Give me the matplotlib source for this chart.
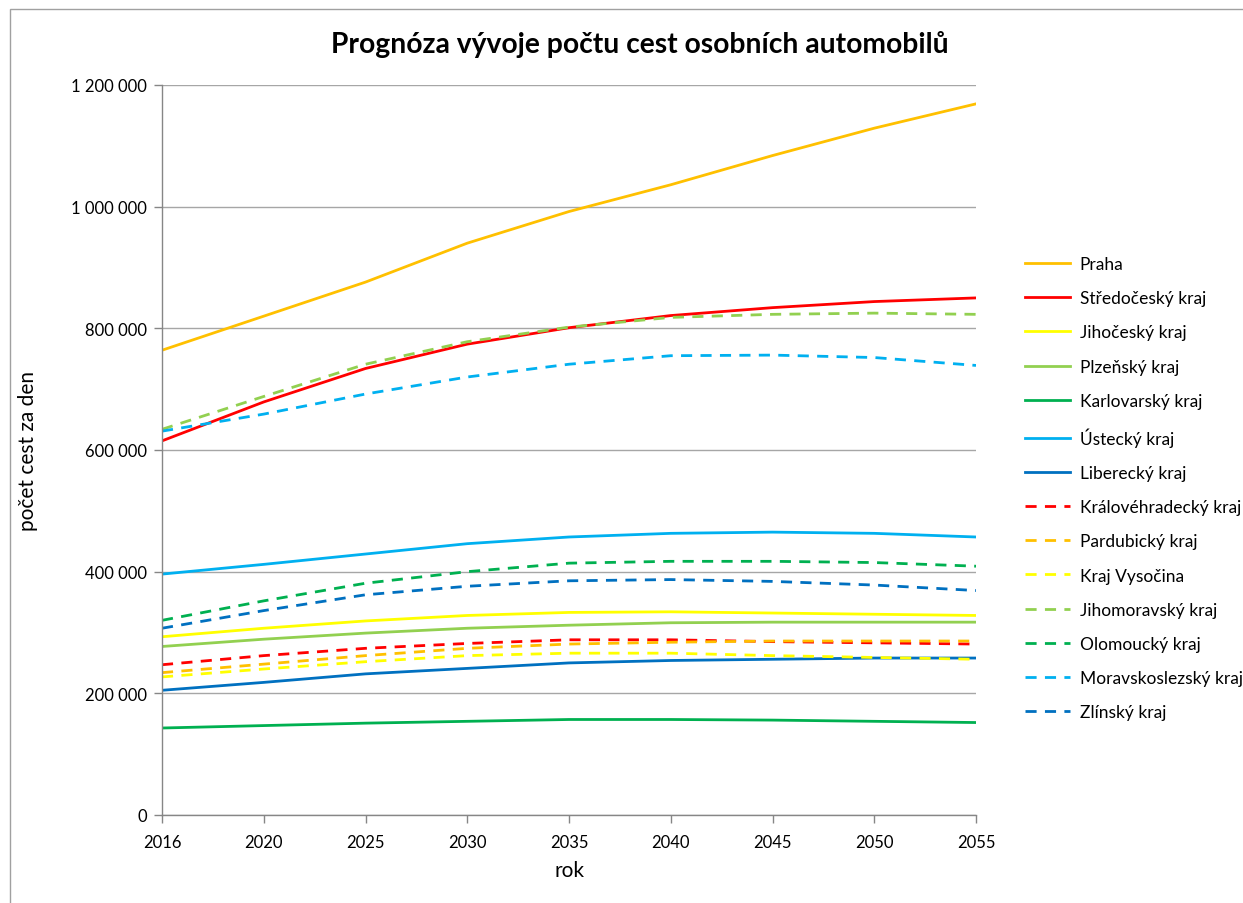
import matplotlib
matplotlib.use("Agg")
import matplotlib.pyplot as plt
from matplotlib.ticker import FuncFormatter
from matplotlib.patches import Rectangle

plt.rcParams['font.family'] = ['Lato', 'DejaVu Sans']

years = ["2016", "2020", "2025", "2030", "2035", "2040", "2045", "2050", "2055"]

praha = [764000, 820000, 876000, 940000, 992000, 1036000, 1084000, 1129000, 1169000]
stredocesky = [615000, 679000, 734000, 774000, 801000, 821000, 834000, 844000, 850000]
jihocesky = [293000, 307000, 319000, 328000, 333000, 334000, 332000, 330000, 328000]
plzensky = [277000, 289000, 299000, 307000, 312000, 316000, 317000, 317000, 317000]
karlovarsky = [143000, 147000, 151000, 154000, 157000, 157000, 156000, 154000, 152000]
ustecky = [396000, 412000, 429000, 446000, 457000, 463000, 465000, 463000, 457000]
liberecky = [205000, 218000, 232000, 241000, 250000, 254000, 256000, 258000, 258000]
kralovehradecky = [247000, 262000, 274000, 282000, 288000, 288000, 285000, 283000, 281000]
pardubicky = [234000, 248000, 262000, 274000, 281000, 284000, 286000, 286000, 286000]
vysocina = [227000, 240000, 252000, 262000, 266000, 266000, 262000, 259000, 256000]
jihomoravsky = [634000, 688000, 741000, 778000, 802000, 818000, 823000, 825000, 823000]
olomoucky = [320000, 352000, 381000, 400000, 414000, 417000, 417000, 415000, 409000]
moravskoslezsky = [631000, 659000, 692000, 720000, 741000, 755000, 756000, 752000, 739000]
zlinsky = [307000, 336000, 362000, 376000, 385000, 387000, 384000, 378000, 369000]

series = [
    ("Praha", praha, "#FFC000", "-"),
    ("Středočeský kraj", stredocesky, "#FF0000", "-"),
    ("Jihočeský kraj", jihocesky, "#FFFF00", "-"),
    ("Plzeňský kraj", plzensky, "#92D050", "-"),
    ("Karlovarský kraj", karlovarsky, "#00B050", "-"),
    ("Ústecký kraj", ustecky, "#00B0F0", "-"),
    ("Liberecký kraj", liberecky, "#0070C0", "-"),
    ("Královéhradecký kraj", kralovehradecky, "#FF0000", "--"),
    ("Pardubický kraj", pardubicky, "#FFC000", "--"),
    ("Kraj Vysočina", vysocina, "#FFFF00", "--"),
    ("Jihomoravský kraj", jihomoravsky, "#92D050", "--"),
    ("Olomoucký kraj", olomoucky, "#00B050", "--"),
    ("Moravskoslezský kraj", moravskoslezsky, "#00B0F0", "--"),
    ("Zlínský kraj", zlinsky, "#0070C0", "--"),
]

W, H = 1243, 904
fig = plt.figure(figsize=(W / 100, H / 100), dpi=100)
ax = fig.add_axes([162 / W, 1 - 816 / H, (976 - 162) / W, (816 - 86) / H])

x = list(range(len(years)))
for name, vals, col, ls in series:
    if ls == "--":
        ax.plot(x, vals, color=col, lw=2.0, label=name, dashes=(4, 3))
    else:
        ax.plot(x, vals, color=col, lw=2.0, label=name)

ax.set_xlim(0, len(years) - 1)
ax.set_ylim(0, 1200000)
ax.set_xticks(x)
ax.set_xticklabels(years)
ax.set_yticks(range(0, 1200001, 200000))
ax.yaxis.set_major_formatter(FuncFormatter(lambda v, p: f"{int(v):,}".replace(",", " ")))
ax.grid(axis='y', color='#a6a6a6', lw=1.0)
ax.set_axisbelow(True)
for s in ['top', 'right']:
    ax.spines[s].set_visible(False)
for s in ['left', 'bottom']:
    ax.spines[s].set_color('#868686')
    ax.spines[s].set_linewidth(1.0)
ax.tick_params(axis='both', colors='#868686', labelcolor='black', labelsize=12, length=6, width=1)
ax.tick_params(axis='y', pad=5)
ax.tick_params(axis='x', pad=8)

ax.set_xlabel("rok", fontsize=15, labelpad=7)
ax.set_ylabel("počet cest za den", fontsize=15, labelpad=24)

fig.text(640 / W, 1 - 45 / H, "Prognóza vývoje počtu cest osobních automobilů",
         ha='center', va='center', fontsize=20.3, fontweight='bold')

leg = fig.legend(loc='upper left', bbox_to_anchor=(1018 / W, 1 - 250 / H), frameon=False,
                 fontsize=12.5, handlelength=2.6, handletextpad=0.55, labelspacing=1.05,
                 borderaxespad=0)

fig.patches.append(Rectangle((10 / W, -0.01), 1.0, 1 - 10 / H + 0.01, transform=fig.transFigure,
                             fill=False, edgecolor='#a0a0a0', lw=1.0))

fig.savefig("out.png", dpi=100)
